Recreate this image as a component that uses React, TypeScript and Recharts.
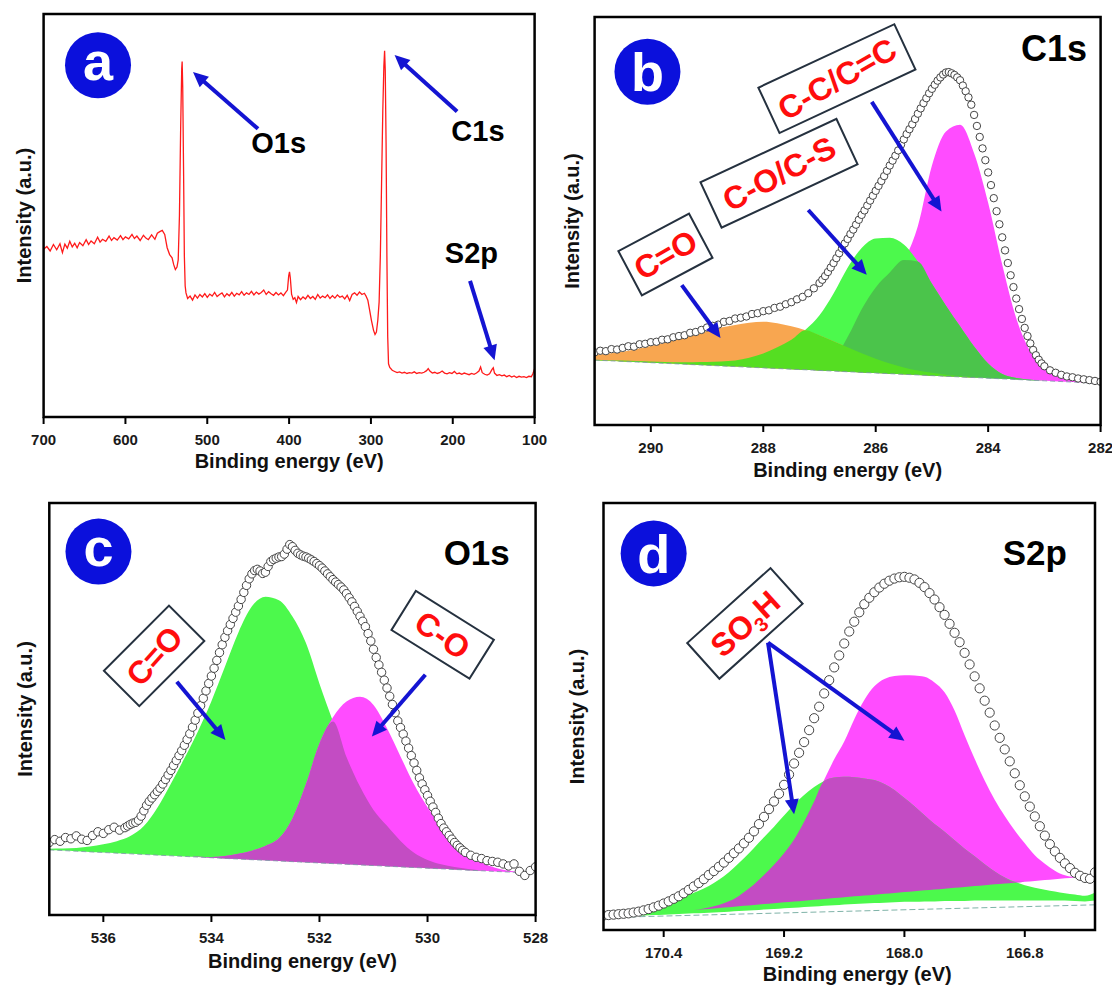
import React from "react";
import {
  Area,
  ComposedChart,
  Line,
  ReferenceArea,
  ReferenceDot,
  ReferenceLine,
  Scatter,
  XAxis,
  YAxis,
} from "recharts";

const FONT = "'Liberation Sans', Arial, Helvetica, sans-serif";
const BADGE_BLUE = "#0b10dc";
const ARROW_BLUE = "#1414d2";
const RED = "#ff0d0d";
const GREEN = "#4cf94c";
const MAGENTA = "#ff4cff";
const ORANGE = "#f8a650";
const DARK_GREEN = "#4bc44b";
const LIME = "#55de22";
const PURPLE = "#c34cc3";

// ---------- (a) survey spectrum: [binding energy, intensity] ----------
const surveySpectrum: [number, number][] = [
  [700, 41.6], [696, 42.3], [692, 41.2], [688, 42.8], [684, 41.5], [680, 43.0], [677, 40.8], [674, 42.9],
  [671, 41.9], [668, 43.6], [665, 42.2], [662, 43.1], [659, 42.0], [656, 43.3], [652, 42.5], [648, 44.0],
  [645, 42.8], [642, 43.7], [638, 43.0], [634, 44.6], [631, 43.4], [628, 44.1], [624, 43.6], [620, 44.9],
  [617, 43.8], [614, 44.5], [610, 43.9], [606, 45.0], [603, 44.0], [600, 44.7], [596, 44.2], [592, 45.3],
  [589, 44.3], [586, 44.9], [582, 43.8], [578, 45.1], [575, 44.4], [572, 44.0], [568, 45.2], [564, 44.1],
  [561, 45.6], [558, 46.0], [555, 46.3], [552, 45.3], [549, 42.0], [546, 40.3], [543, 39.5], [541, 37.8],
  [539, 36.6], [537, 37.2], [535.5, 39.0], [534, 50.0], [532.5, 72.0], [531.2, 86.5], [530.7, 88.2],
  [530, 82.0], [529, 62.0], [528, 40.0], [527, 32.5], [526, 30.8], [524, 29.4], [521, 30.0], [518, 29.0],
  [515, 30.3], [512, 29.5], [509, 30.4], [506, 29.8], [503, 30.6], [500, 29.7], [497, 30.5], [494, 30.0],
  [491, 30.9], [488, 29.9], [485, 30.4], [482, 30.8], [479, 29.8], [476, 30.6], [473, 30.1], [470, 30.9],
  [467, 30.0], [464, 30.7], [461, 30.3], [458, 31.1], [455, 30.2], [452, 30.8], [449, 30.4], [446, 31.2],
  [443, 30.3], [440, 31.0], [437, 30.5], [434, 30.9], [431, 31.5], [428, 30.4], [425, 31.1], [422, 30.6],
  [419, 30.2], [416, 30.9], [413, 30.3], [410, 30.8], [407, 30.1], [404, 31.0], [402, 31.5], [400.5, 35.0],
  [399.5, 36.0], [398.5, 34.5], [397, 30.5], [395, 29.2], [393, 29.6], [391, 28.4], [389, 29.9], [386, 29.1],
  [383, 29.8], [380, 29.3], [377, 30.2], [374, 29.4], [371, 29.9], [368, 29.2], [365, 30.4], [362, 29.5],
  [359, 30.0], [356, 29.6], [353, 30.3], [350, 29.4], [347, 30.1], [344, 29.5], [341, 30.3], [338, 29.7],
  [335, 30.0], [332, 29.3], [329, 30.2], [326, 28.9], [323, 30.4], [320, 30.8], [317, 30.2], [314, 31.0],
  [311, 30.4], [308, 30.7], [306, 30.0], [303.8, 29.0], [301.6, 26.5], [299.4, 24.0], [296.8, 21.5],
  [295, 20.5], [293.3, 21.1], [291.6, 24.0], [290, 28.5], [288.5, 40.0], [287, 58.0], [285.5, 76.0],
  [284.2, 87.0], [283.3, 90.9], [282.5, 86.0], [281.5, 68.0], [280.5, 40.0], [279.5, 20.0], [278.5, 13.2],
  [277, 12.3], [274, 11.6], [271, 11.3], [268, 11.0], [265, 11.2], [262, 10.9], [259, 11.1], [256, 10.8],
  [253, 11.0], [250, 10.9], [247, 11.2], [244, 10.8], [241, 11.0], [238, 10.9], [235, 11.1], [232, 11.5],
  [230, 12.0], [228, 11.4], [225, 10.9], [222, 11.1], [219, 10.8], [216, 11.0], [213, 11.4], [210, 10.9],
  [207, 10.7], [204, 11.0], [201, 10.8], [198, 11.3], [195, 10.7], [192, 10.9], [189, 10.6], [186, 10.9],
  [183, 10.7], [180, 10.5], [177, 10.8], [174, 10.6], [171, 10.9], [168, 11.4], [166, 12.4], [164, 11.0],
  [161, 10.6], [158, 10.4], [155, 10.7], [152, 11.8], [150.5, 12.2], [149, 10.9], [146, 10.3], [143, 10.5],
  [140, 10.2], [137, 10.4], [134, 10.0], [131, 10.3], [128, 9.9], [125, 10.2], [122, 9.8], [119, 10.1],
  [116, 9.9], [113, 10.0], [110, 9.8], [107, 10.1], [104, 10.0], [102, 10.8], [100, 12.0],
];
const surveyTicks = [700, 600, 500, 400, 300, 200, 100];

// ---------- (b) C1s ----------
const c1sMeasured: [number, number][] = [
  [291.0, 17.8], [290.9, 18.2], [290.8, 18.1], [290.7, 18.6], [290.6, 18.5], [290.5, 18.9], [290.4, 19.3],
  [290.3, 19.2], [290.2, 19.8], [290.1, 19.9], [290.0, 20.3], [289.9, 20.4], [289.8, 20.9], [289.7, 21.0],
  [289.6, 21.5], [289.5, 21.8], [289.4, 22.0], [289.3, 22.6], [289.2, 22.8], [289.1, 23.3], [289.0, 23.9],
  [288.9, 24.3], [288.8, 24.6], [288.7, 25.3], [288.6, 25.5], [288.5, 26.1], [288.4, 26.3], [288.3, 26.6],
  [288.2, 27.2], [288.1, 27.4], [288.0, 27.9], [287.9, 28.1], [287.8, 28.7], [287.7, 29.0], [287.6, 29.6],
  [287.5, 30.1], [287.4, 30.8], [287.3, 31.4], [287.2, 32.3], [287.1, 33.5], [287.0, 34.8], [286.95, 35.6],
  [286.9, 36.5], [286.85, 37.5], [286.8, 38.6], [286.75, 39.7], [286.7, 40.9], [286.65, 42.1], [286.6, 43.3],
  [286.55, 44.5], [286.5, 45.6], [286.45, 46.8], [286.4, 47.9], [286.35, 49.1], [286.3, 50.3], [286.25, 51.5],
  [286.2, 52.6], [286.15, 53.8], [286.1, 55.0], [286.05, 56.2], [286.0, 57.4], [285.95, 58.6], [285.9, 59.8],
  [285.85, 61.0], [285.8, 62.3], [285.75, 63.6], [285.7, 64.8], [285.65, 66.0], [285.6, 67.3], [285.55, 68.7],
  [285.5, 70.0], [285.45, 71.3], [285.4, 72.5], [285.35, 73.7], [285.3, 75.0], [285.25, 76.3], [285.2, 77.6],
  [285.15, 78.9], [285.1, 80.1], [285.05, 81.3], [285.0, 82.4], [284.95, 83.4], [284.9, 84.4], [284.85, 85.2],
  [284.8, 85.9], [284.75, 86.4], [284.7, 86.5], [284.65, 86.2], [284.6, 85.8], [284.55, 85.2], [284.5, 84.5],
  [284.45, 83.2], [284.4, 81.8], [284.35, 80.3], [284.3, 78.5], [284.25, 76.0], [284.2, 73.3], [284.15, 70.6],
  [284.1, 67.8], [284.05, 64.9], [284.0, 61.9], [283.95, 58.8], [283.9, 55.6], [283.85, 52.4], [283.8, 49.2],
  [283.75, 46.0], [283.7, 42.8], [283.65, 39.7], [283.6, 36.7], [283.55, 33.8], [283.5, 31.0], [283.45, 28.4],
  [283.4, 26.0], [283.35, 23.8], [283.3, 21.8], [283.25, 20.0], [283.2, 18.4], [283.15, 17.1], [283.1, 16.0],
  [283.05, 15.1], [283.0, 14.4], [282.9, 13.4], [282.8, 12.8], [282.7, 12.3], [282.6, 11.9], [282.5, 11.7],
  [282.4, 11.4], [282.3, 11.2], [282.2, 11.0], [282.1, 10.8], [282.0, 10.6],
];
const c1sFitEnergy = [
  291, 290.75, 290.5, 290.25, 290, 289.75, 289.5, 289.25, 289, 288.75, 288.5, 288.25, 288, 287.75, 287.5,
  287.25, 287, 286.75, 286.5, 286.25, 286, 285.75, 285.5, 285.25, 285, 284.75, 284.5, 284.25, 284, 283.75,
  283.5, 283.25, 283, 282.75, 282.5, 282.25, 282,
];
const c1sBackground = [
  15.9, 15.74, 15.58, 15.42, 15.27, 15.11, 14.95, 14.79, 14.63, 14.48, 14.32, 14.16, 14.0, 13.84, 13.68,
  13.53, 13.37, 13.21, 13.05, 12.89, 12.73, 12.58, 12.42, 12.26, 12.1, 11.94, 11.78, 11.63, 11.47, 11.31,
  11.15, 10.99, 10.83, 10.68, 10.52, 10.36, 10.2,
];
// C=O
const c1sCarbonyl = [
  1.3, 1.8, 2.4, 3.2, 4.1, 5.1, 6.2, 7.3, 8.4, 9.4, 10.2, 10.9, 11.3, 11.1, 10.5, 9.7, 8.6, 7.3, 6.0, 4.7,
  3.5, 2.5, 1.7, 1.1, 0.7, 0.4, 0.2, 0.1, 0, 0, 0, 0, 0, 0, 0, 0, 0,
];
// C-O / C-S
const c1sEtherSulfide = [
  0.1, 0.15, 0.2, 0.25, 0.3, 0.35, 0.45, 0.6, 0.8, 1.1, 1.5, 2.3, 3.5, 5.2, 7.2, 9.8, 13.5, 19.0, 25.5, 30.5,
  33.0, 33.3, 31.8, 27.8, 22.5, 17.3, 12.4, 7.6, 3.6, 1.2, 0.4, 0.1, 0, 0, 0, 0, 0,
];
// C-C / C=C
const c1sGraphitic = [
  0, 0, 0, 0, 0, 0, 0, 0, 0, 0, 0, 0, 0, 0, 0, 0.3, 0.8, 2.8, 8.5, 15.5, 21.0, 24.8, 28.0, 36.5, 51.5, 60.0,
  61.8, 55.0, 43.0, 28.0, 15.0, 7.0, 3.0, 1.3, 0.6, 0.2, 0.1,
];
const c1sTicks = [290, 288, 286, 284, 282];

// ---------- (c) O1s ----------
const o1sMeasured: [number, number][] = [
  [537.0, 17.6], [536.9, 18.3], [536.8, 17.9], [536.7, 18.8], [536.6, 18.5], [536.5, 19.2], [536.4, 18.4],
  [536.3, 18.1], [536.2, 19.3], [536.1, 20.2], [536.0, 19.8], [535.9, 20.7], [535.8, 21.3], [535.7, 20.6],
  [535.6, 21.2], [535.55, 21.6], [535.5, 22.0], [535.45, 22.3], [535.4, 22.5], [535.35, 23.0], [535.3, 24.0],
  [535.25, 25.3], [535.2, 26.6], [535.15, 27.6], [535.1, 28.4], [535.05, 29.2], [535.0, 30.0], [534.95, 30.8],
  [534.9, 31.8], [534.85, 32.9], [534.8, 34.0], [534.75, 35.1], [534.7, 36.3], [534.65, 37.5], [534.6, 38.7],
  [534.55, 39.9], [534.5, 41.2], [534.45, 42.6], [534.4, 44.0], [534.35, 45.6], [534.3, 47.3], [534.25, 49.0],
  [534.2, 50.8], [534.15, 52.6], [534.1, 54.4], [534.05, 56.2], [534.0, 58.0], [533.95, 59.9], [533.9, 61.8],
  [533.85, 63.7], [533.8, 65.6], [533.75, 67.4], [533.7, 69.0], [533.65, 70.5], [533.6, 72.0], [533.55, 73.5],
  [533.5, 75.0], [533.45, 76.6], [533.4, 78.3], [533.35, 80.0], [533.3, 81.6], [533.25, 82.8], [533.2, 83.6],
  [533.15, 83.9], [533.1, 83.5], [533.05, 82.9], [533.0, 83.2], [532.95, 84.6], [532.9, 85.8], [532.85, 86.3],
  [532.8, 86.6], [532.75, 86.9], [532.7, 87.0], [532.65, 87.6], [532.6, 88.8], [532.55, 89.9], [532.5, 89.4],
  [532.45, 88.5], [532.4, 87.8], [532.35, 87.4], [532.3, 87.1], [532.25, 86.9], [532.2, 86.6], [532.15, 86.2],
  [532.1, 85.8], [532.05, 85.3], [532.0, 84.8], [531.95, 84.2], [531.9, 83.5], [531.85, 82.8], [531.8, 82.1],
  [531.75, 81.4], [531.7, 80.8], [531.65, 80.2], [531.6, 79.6], [531.55, 78.9], [531.5, 78.0], [531.45, 77.0],
  [531.4, 76.0], [531.35, 74.9], [531.3, 73.7], [531.25, 72.5], [531.2, 71.3], [531.15, 70.0], [531.1, 68.3],
  [531.05, 66.5], [531.0, 64.5], [530.95, 62.5], [530.9, 60.7], [530.85, 58.9], [530.8, 57.0], [530.75, 55.1],
  [530.7, 53.1], [530.65, 51.1], [530.6, 49.1], [530.55, 47.1], [530.5, 45.5], [530.45, 43.9], [530.4, 42.2],
  [530.35, 40.5], [530.3, 38.7], [530.25, 36.9], [530.2, 35.1], [530.15, 33.3], [530.1, 31.8], [530.05, 30.4],
  [530.0, 29.0], [529.95, 27.6], [529.9, 26.2], [529.85, 24.9], [529.8, 23.5], [529.75, 22.2], [529.7, 21.1],
  [529.65, 20.2], [529.6, 19.3], [529.55, 18.4], [529.5, 17.6], [529.45, 16.9], [529.4, 16.3], [529.35, 15.7],
  [529.3, 15.2], [529.2, 14.5], [529.1, 14.0], [529.0, 13.7], [528.9, 13.2], [528.8, 13.0], [528.7, 12.8],
  [528.6, 12.4], [528.5, 11.9], [528.4, 12.4], [528.3, 10.6], [528.2, 9.6], [528.1, 10.8], [528.0, 11.7],
];
const o1sFitEnergy = [
  537, 536.75, 536.5, 536.25, 536, 535.75, 535.5, 535.25, 535, 534.75, 534.5, 534.25, 534, 533.75, 533.5,
  533.25, 533, 532.75, 532.5, 532.25, 532, 531.75, 531.5, 531.25, 531, 530.75, 530.5, 530.25, 530, 529.75,
  529.5, 529.25, 529, 528.75, 528.5, 528.25, 528,
];
const o1sBackground = [
  15.8, 15.64, 15.48, 15.32, 15.17, 15.01, 14.85, 14.69, 14.53, 14.37, 14.22, 14.06, 13.9, 13.74, 13.58,
  13.42, 13.27, 13.11, 12.95, 12.79, 12.63, 12.47, 12.32, 12.16, 12.0, 11.84, 11.68, 11.52, 11.37, 11.21,
  11.05, 10.89, 10.73, 10.57, 10.42, 10.26, 10.1,
];
// C=O
const o1sCarbonyl = [
  0.3, 0.5, 0.8, 1.3, 2.0, 2.9, 4.3, 6.9, 11.5, 17.5, 23.8, 30.5, 38.0, 46.5, 55.0, 61.5, 64.0, 63.3, 59.5,
  53.2, 43.5, 34.5, 26.0, 19.0, 13.5, 9.8, 6.3, 3.6, 2.0, 1.1, 0.6, 0.3, 0.1, 0, 0, 0, 0,
];
// C-O
const o1sEther = [
  0, 0, 0, 0, 0, 0, 0, 0, 0, 0, 0, 0.1, 0.2, 0.6, 1.3, 2.2, 3.5, 5.5, 10.5, 19.0, 29.0, 35.5, 39.5, 40.8,
  39.0, 33.5, 26.8, 20.2, 14.8, 10.5, 6.8, 3.8, 2.0, 0.9, 0.3, 0.1, 0,
];
const o1sTicks = [536, 534, 532, 530, 528];

// ---------- (d) S2p ----------
const s2pMeasured: [number, number][] = [
  [171.0, 3.4], [170.95, 3.5], [170.9, 3.6], [170.85, 3.7], [170.8, 3.8], [170.75, 3.9], [170.7, 4.1],
  [170.65, 4.3], [170.6, 4.6], [170.55, 4.9], [170.5, 5.3], [170.45, 5.7], [170.4, 6.2], [170.35, 6.7],
  [170.3, 7.3], [170.25, 7.9], [170.2, 8.6], [170.15, 9.4], [170.1, 10.2], [170.05, 11.0], [170.0, 11.9],
  [169.95, 12.9], [169.9, 13.8], [169.85, 14.8], [169.8, 15.8], [169.75, 16.9], [169.7, 18.0], [169.65, 19.1],
  [169.6, 20.3], [169.55, 21.6], [169.5, 23.1], [169.45, 24.8], [169.4, 26.5], [169.35, 28.3], [169.3, 30.1],
  [169.25, 31.9], [169.2, 34.0], [169.15, 36.4], [169.1, 39.0], [169.05, 41.5], [169.0, 44.0], [168.95, 46.8],
  [168.9, 49.6], [168.85, 52.3], [168.8, 55.4], [168.75, 58.5], [168.7, 61.5], [168.65, 64.3], [168.6, 67.1],
  [168.55, 69.9], [168.5, 72.2], [168.45, 74.4], [168.4, 76.3], [168.35, 77.8], [168.3, 79.1], [168.25, 80.2],
  [168.2, 81.1], [168.15, 81.8], [168.1, 82.3], [168.05, 82.6], [168.0, 82.7], [167.95, 82.5], [167.9, 82.1],
  [167.85, 81.3], [167.8, 80.3], [167.75, 78.9], [167.7, 77.4], [167.65, 75.6], [167.6, 73.8], [167.55, 71.7],
  [167.5, 69.6], [167.45, 67.4], [167.4, 64.9], [167.35, 62.2], [167.3, 59.4], [167.25, 56.6], [167.2, 53.7],
  [167.15, 50.9], [167.1, 47.9], [167.05, 45.0], [167.0, 42.3], [166.95, 39.5], [166.9, 36.7], [166.85, 33.9],
  [166.8, 31.3], [166.75, 28.9], [166.7, 26.6], [166.65, 24.3], [166.6, 22.1], [166.55, 20.1], [166.5, 18.4],
  [166.45, 16.9], [166.4, 15.6], [166.35, 14.5], [166.3, 13.4], [166.25, 12.7], [166.2, 12.2], [166.15, 12.0],
  [166.1, 13.5],
];
const s2pFitEnergy = [
  171.0, 170.9, 170.8, 170.7, 170.6, 170.5, 170.4, 170.3, 170.2, 170.1, 170.0, 169.9, 169.8, 169.7, 169.6,
  169.5, 169.4, 169.3, 169.2, 169.1, 169.0, 168.9, 168.8, 168.7, 168.6, 168.5, 168.4, 168.3, 168.2, 168.1,
  168.0, 167.9, 167.8, 167.7, 167.6, 167.5, 167.4, 167.3, 167.2, 167.1, 167.0, 166.9, 166.8, 166.7, 166.6,
  166.5, 166.4, 166.3, 166.2, 166.1,
];
// SO3H doublet, high-BE component: lower and upper edge
const s2pHighFloor = [
  3.2, 3.2, 3.3, 3.4, 3.4, 3.5, 3.6, 3.7, 3.8, 3.9, 4.0, 4.1, 4.2, 4.4, 4.5, 4.6, 4.8, 4.9, 5.1, 5.2, 5.4,
  5.5, 5.7, 5.8, 6.0, 6.1, 6.2, 6.3, 6.4, 6.5, 6.6, 6.6, 6.7, 6.7, 6.8, 6.8, 6.8, 6.9, 6.9, 6.9, 6.9, 6.9,
  6.9, 6.9, 6.9, 6.9, 6.9, 6.8, 6.7, 6.9,
];
const s2pHighTop = [
  3.3, 3.5, 3.7, 4.0, 4.6, 5.3, 6.0, 6.8, 7.7, 8.7, 9.7, 11.0, 12.6, 14.6, 16.8, 19.2, 21.7, 24.2, 26.8,
  29.4, 31.6, 33.5, 34.9, 35.7, 35.9, 35.8, 35.5, 35.1, 34.2, 32.8, 30.9, 29.0, 26.9, 24.8, 23.0, 21.0, 19.0,
  17.3, 15.4, 13.7, 12.3, 11.3, 10.5, 9.9, 9.4, 9.0, 8.6, 8.3, 8.0, 8.8,
];
// SO3H doublet, low-BE component: background and peak height
const s2pLowFloor = [
  2.85, 3.05, 3.25, 3.45, 3.65, 3.85, 4.05, 4.26, 4.46, 4.66, 4.86, 5.06, 5.26, 5.46, 5.66, 5.87, 6.07, 6.27,
  6.47, 6.67, 6.87, 7.07, 7.27, 7.47, 7.67, 7.88, 8.08, 8.28, 8.48, 8.68, 8.88, 9.08, 9.28, 9.48, 9.68, 9.89,
  10.09, 10.29, 10.49, 10.69, 10.89, 11.09, 11.29, 11.49, 11.69, 11.9, 12.1, 12.3, 12.5, 12.7,
];
const s2pLowPeak = [
  0, 0, 0, 0, 0, 0, 0, 0, 0, 0, 0.2, 0.5, 1.0, 1.8, 3.2, 4.8, 6.8, 9.0, 11.5, 14.5, 18.5, 23.0, 27.9, 32.5,
  36.5, 41.5, 45.8, 48.8, 50.3, 50.8, 50.8, 50.5, 50.0, 48.5, 46.0, 41.5, 35.5, 29.8, 24.5, 19.8, 15.8, 12.2,
  9.0, 6.0, 3.8, 2.0, 0.7, 0.1, 0, 0,
];
const s2pBackgroundLine: [number, number][] = [[171.0, 2.9], [166.1, 5.9]];
const s2pTicks = [170.4, 169.2, 168.0, 166.8];

// ---------- rows for the library ----------
const toPoints = (pairs: [number, number][]) => pairs.map(([x, y]) => ({ x, y }));

const surveyPoints = toPoints(surveySpectrum);
const c1sPoints = toPoints(c1sMeasured);
const o1sPoints = toPoints(o1sMeasured);
const s2pPoints = toPoints(s2pMeasured);
const s2pBackground = toPoints(s2pBackgroundLine);

const c1sRows = c1sFitEnergy.map((x, i) => {
  const base = c1sBackground[i];
  const o = c1sCarbonyl[i];
  const g = c1sEtherSulfide[i];
  const m = c1sGraphitic[i];
  return {
    x,
    base,
    carbonyl: [base, base + o],
    ether: [base, base + g],
    graphitic: [base, base + m],
    etherOverGraphitic: [base, base + Math.min(g, m)],
    carbonylOverEther: [base, base + Math.min(o, g)],
  };
});

const o1sRows = o1sFitEnergy.map((x, i) => {
  const base = o1sBackground[i];
  const g = o1sCarbonyl[i];
  const m = o1sEther[i];
  return {
    x,
    base,
    carbonyl: [base, base + g],
    ether: [base, base + m],
    both: [base, base + Math.min(g, m)],
  };
});

const s2pRows = s2pFitEnergy.map((x, i) => {
  const lowTop = s2pLowFloor[i] + s2pLowPeak[i];
  const bottom = Math.max(s2pHighFloor[i], s2pLowFloor[i]);
  const top = Math.max(bottom, Math.min(s2pHighTop[i], lowTop));
  return {
    x,
    high: [s2pHighFloor[i], s2pHighTop[i]],
    low: [s2pLowFloor[i], lowTop],
    both: [bottom, top],
  };
});

// ---------- shared pieces ----------
const tickStyle = { fontSize: 15, fontWeight: 700, fill: "#1a1a1a", fontFamily: FONT };
const axisLabelStyle = { fill: "#111", fontSize: 20, fontWeight: 700, fontFamily: FONT };

function bindingAxis(
  domain: [number, number],
  ticks: number[],
  digits: number,
  height: number,
  offset: number,
  dx: number,
) {
  return (
    <XAxis
      dataKey="x"
      type="number"
      domain={domain}
      reversed
      allowDataOverflow
      ticks={ticks}
      interval={0}
      tickFormatter={(v: number) => v.toFixed(digits)}
      tick={tickStyle}
      stroke="#000"
      axisLine={false}
      tickLine={{ stroke: "#000", strokeWidth: 2 }}
      tickSize={7}
      tickMargin={10}
      height={height}
      label={{ value: "Binding energy (eV)", position: "insideBottom", offset, dx, ...axisLabelStyle }}
    />
  );
}

function intensityAxis(width: number) {
  return (
    <YAxis
      type="number"
      domain={[0, 100]}
      allowDataOverflow
      tick={false}
      tickLine={false}
      axisLine={false}
      width={width}
      label={{ value: "Intensity (a.u.)", angle: -90, position: "center", ...axisLabelStyle }}
    />
  );
}

function frame(domain: [number, number]) {
  return (
    <ReferenceArea
      x1={domain[0]}
      x2={domain[1]}
      y1={0}
      y2={100}
      fill="none"
      fillOpacity={0}
      stroke="#000"
      strokeWidth={2.5}
      ifOverflow="visible"
      zIndex={1000}
    />
  );
}

function arrowShape(p: any) {
  const { x1, y1, x2, y2 } = p;
  const dx = x2 - x1;
  const dy = y2 - y1;
  const len = Math.hypot(dx, dy) || 1;
  const ux = dx / len;
  const uy = dy / len;
  const head = 15;
  const half = 7;
  const bx = x2 - ux * head;
  const by = y2 - uy * head;
  return (
    <g>
      <line x1={x1} y1={y1} x2={bx + ux} y2={by + uy} stroke={ARROW_BLUE} strokeWidth={4} />
      <polygon
        points={`${x2},${y2} ${bx - uy * half},${by + ux * half} ${bx + uy * half},${by - ux * half}`}
        fill={ARROW_BLUE}
      />
    </g>
  );
}

function arrow(xFrom: number, yFrom: number, xTo: number, yTo: number) {
  return (
    <ReferenceLine
      segment={[{ x: xFrom, y: yFrom }, { x: xTo, y: yTo }]}
      ifOverflow="visible"
      shape={arrowShape}
      zIndex={950}
    />
  );
}

function badge(x: number, y: number, letter: string, lift: string) {
  return (
    <ReferenceDot
      x={x}
      y={y}
      r={33}
      ifOverflow="visible"
      zIndex={950}
      shape={(p: any) => (
        <g>
          <circle cx={p.cx} cy={p.cy} r={33} fill={BADGE_BLUE} />
          <text
            x={p.cx}
            y={p.cy}
            dy={lift}
            textAnchor="middle"
            fill="#fff"
            fontSize={54}
            fontWeight={700}
            fontFamily={FONT}
          >
            {letter}
          </text>
        </g>
      )}
    />
  );
}

function caption(x: number, y: number, text: string, size: number) {
  return (
    <ReferenceDot
      x={x}
      y={y}
      r={1}
      ifOverflow="visible"
      zIndex={950}
      shape={(p: any) => (
        <text
          x={p.cx}
          y={p.cy}
          dy="0.36em"
          textAnchor="middle"
          fill="#000"
          fontSize={size}
          fontWeight={700}
          fontFamily={FONT}
        >
          {text}
        </text>
      )}
    />
  );
}

function tag(
  x: number,
  y: number,
  w: number,
  h: number,
  boxAngle: number,
  textAngle: number,
  content: React.ReactNode,
) {
  return (
    <ReferenceDot
      x={x}
      y={y}
      r={1}
      ifOverflow="visible"
      zIndex={950}
      shape={(p: any) => (
        <g transform={`translate(${p.cx},${p.cy})`}>
          <rect
            x={-w / 2}
            y={-h / 2}
            width={w}
            height={h}
            fill="#fff"
            stroke="#25313f"
            strokeWidth={2}
            transform={`rotate(${boxAngle})`}
          />
          <text
            transform={`rotate(${textAngle})`}
            textAnchor="middle"
            dy="0.36em"
            fill={RED}
            fontSize={32}
            fontWeight={700}
            fontFamily={FONT}
          >
            {content}
          </text>
        </g>
      )}
    />
  );
}

const circleShape = (r: number) => (p: any) =>
  <circle cx={p.cx} cy={p.cy} r={r} fill="#fff" stroke="#444" strokeWidth={1} />;

function band(rows: any[], key: string, color: string) {
  return (
    <Area
      data={rows}
      dataKey={key}
      type="monotone"
      stroke="none"
      fill={color}
      fillOpacity={1}
      dot={false}
      activeDot={false}
      isAnimationActive={false}
    />
  );
}

export default function App() {
  return (
    <div style={{ position: "absolute", left: 0, top: 0, width: 1112, height: 988, background: "#fff" }}>
      {/* (a) survey */}
      <div style={{ position: "absolute", left: 0, top: 0 }}>
        <ComposedChart width={556} height={490} margin={{ top: 14, right: 21.4, bottom: 13, left: 4 }}>
          {bindingAxis([100, 700], surveyTicks, 0, 60, 9, 0)}
          {intensityAxis(39.6)}
          <Line
            data={surveyPoints}
            dataKey="y"
            type="linear"
            stroke="#ff1a1a"
            strokeWidth={1.3}
            dot={false}
            activeDot={false}
            isAnimationActive={false}
          />
          {arrow(438.0, 71.5, 517.4, 85.6)}
          {arrow(194.7, 75.8, 271.1, 89.8)}
          {arrow(178.9, 33.8, 148.9, 14.1)}
          {caption(412.8, 68.1, "O1s", 29)}
          {caption(169.2, 71.0, "C1s", 29)}
          {caption(177.2, 40.9, "S2p", 29)}
          {badge(633.5, 87.3, "a", "0.27em")}
          {frame([100, 700])}
        </ComposedChart>
      </div>

      {/* (b) C1s */}
      <div style={{ position: "absolute", left: 540, top: 0 }}>
        <ComposedChart width={572} height={490} margin={{ top: 17, right: 11.4, bottom: 5, left: 9.4 }}>
          {bindingAxis([282, 291], c1sTicks, 0, 60, 8.5, 0)}
          {intensityAxis(45.2)}
          {band(c1sRows, "graphitic", MAGENTA)}
          {band(c1sRows, "ether", GREEN)}
          {band(c1sRows, "carbonyl", ORANGE)}
          {band(c1sRows, "etherOverGraphitic", DARK_GREEN)}
          {band(c1sRows, "carbonylOverEther", LIME)}
          <Line
            data={c1sRows}
            dataKey="base"
            type="linear"
            stroke="#7d97a8"
            strokeWidth={0.8}
            strokeDasharray="5 3"
            dot={false}
            activeDot={false}
            isAnimationActive={false}
          />
          <Scatter data={c1sPoints} dataKey="y" shape={circleShape(3.7)} isAnimationActive={false} />
          {tag(289.74, 41.8, 80, 50, -28, -30, "C=O")}
          {tag(287.72, 61.7, 150, 50, -25, -28, "C-O/C-S")}
          {tag(286.69, 84.9, 150, 50, -25, -30, "C-C/C=C")}
          {arrow(289.45, 34.3, 288.76, 21.3)}
          {arrow(287.2, 52.7, 286.16, 36.8)}
          {arrow(286.07, 79.2, 284.83, 52.3)}
          {caption(282.83, 92.5, "C1s", 36)}
          {badge(290.06, 86.6, "b", "0.36em")}
          {frame([282, 291])}
        </ComposedChart>
      </div>

      {/* (c) O1s */}
      <div style={{ position: "absolute", left: 0, top: 480 }}>
        <ComposedChart width={556} height={508} margin={{ top: 23, right: 20.4, bottom: 13, left: 0 }}>
          {bindingAxis([528, 537], o1sTicks, 0, 60, 7, 10)}
          {intensityAxis(49.3)}
          {band(o1sRows, "carbonyl", GREEN)}
          {band(o1sRows, "ether", MAGENTA)}
          {band(o1sRows, "both", PURPLE)}
          <Line
            data={o1sRows}
            dataKey="base"
            type="linear"
            stroke="#7d97a8"
            strokeWidth={0.8}
            strokeDasharray="5 3"
            dot={false}
            activeDot={false}
            isAnimationActive={false}
          />
          <Scatter data={o1sPoints} dataKey="y" shape={circleShape(4.2)} isAnimationActive={false} />
          {tag(535.06, 62.9, 92, 50, -45, -48, "C=O")}
          {tag(529.72, 68.0, 92, 46, 32, 35, "C-O")}
          {arrow(534.64, 56.6, 533.74, 42.5)}
          {arrow(530.04, 58.3, 531.03, 43.3)}
          {caption(529.09, 88.0, "O1s", 35)}
          {badge(536.09, 88.2, "c", "0.27em")}
          {frame([528, 537])}
        </ComposedChart>
      </div>

      {/* (d) S2p */}
      <div style={{ position: "absolute", left: 540, top: 480 }}>
        <ComposedChart width={572} height={508} margin={{ top: 23, right: 17, bottom: 0, left: 9.5 }}>
          {bindingAxis([166.1, 171.0], s2pTicks, 1, 58, 7.5, 8)}
          {intensityAxis(54)}
          {band(s2pRows, "low", MAGENTA)}
          {band(s2pRows, "high", GREEN)}
          {band(s2pRows, "both", PURPLE)}
          <Line
            data={s2pBackground}
            dataKey="y"
            type="linear"
            stroke="#7fb3a8"
            strokeWidth={1}
            strokeDasharray="6 3"
            dot={false}
            activeDot={false}
            isAnimationActive={false}
          />
          <Scatter data={s2pPoints} dataKey="y" shape={circleShape(4.6)} isAnimationActive={false} />
          {tag(169.59, 71.8, 112, 48, -42, -42, (
            <>
              <tspan>SO</tspan>
              <tspan fontSize={20} dy={7}>3</tspan>
              <tspan dy={-7}>H</tspan>
            </>
          ))}
          {arrow(169.36, 67.3, 169.1, 27.1)}
          {arrow(169.36, 67.3, 168.0, 44.3)}
          {caption(166.7, 88.5, "S2p", 35)}
          {badge(170.5, 88.2, "d", "0.36em")}
          {frame([166.1, 171.0])}
        </ComposedChart>
      </div>
    </div>
  );
}
